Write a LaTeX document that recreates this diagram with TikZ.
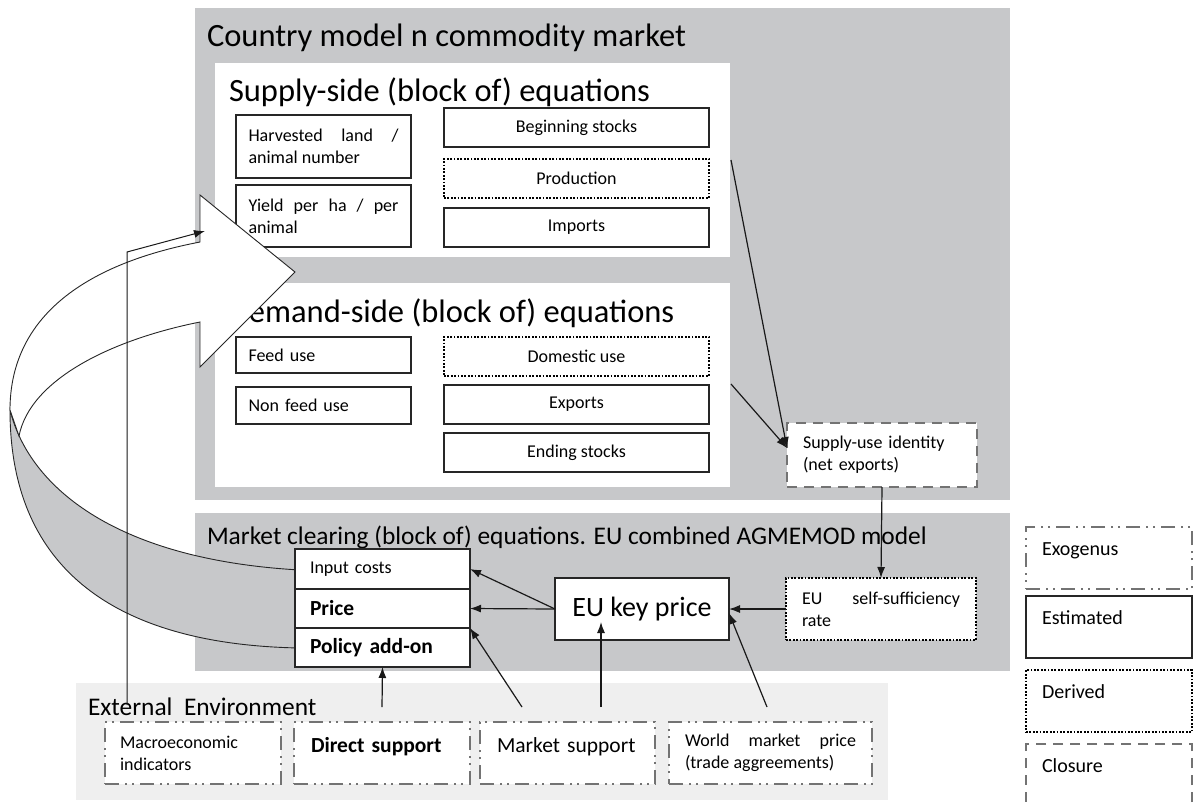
\documentclass[tikz,border=0pt]{standalone}
\usepackage{fontspec}
\setmainfont{Carlito}
\usetikzlibrary{arrows.meta}

\definecolor{panelgray}{RGB}{199,200,202}
\definecolor{envgray}{RGB}{239,239,239}
\definecolor{dashgray}{RGB}{115,115,115}

\newcommand{\boxfont}{\fontsize{18}{22}\selectfont}
\newcommand{\midfont}{\fontsize{21.5}{25}\selectfont}
\newcommand{\bigtitle}{\fontsize{32.5}{38}\selectfont}

\begin{document}
\begin{tikzpicture}[x=1pt, y=-1pt,
	every node/.style={inner sep=0pt, outer sep=0pt},
	est/.style={draw=black!85, line width=1.3pt, fill=white, font=\boxfont},
	der/.style={est, draw=black, line width=2.2pt, dash pattern=on 1.8pt off 1.6pt},
	exo/.style={est, draw=dashgray, line width=2.2pt, dash pattern=on 14pt off 6pt on 2pt off 5pt on 2pt off 6pt},
	clo/.style={est, draw=dashgray, line width=2.2pt, dash pattern=on 10pt off 7pt},
	link/.style={-{Latex[length=11pt,width=8pt]}, line width=1.2pt, black!90},
	ribbon/.style={line width=0.9pt, draw=black!85}]
	\useasboundingbox (0,0) rectangle (1193,804);
	
	% panels
	\fill[panelgray] (195,8) rectangle (1010,500);
	\fill[white] (215,63) rectangle (730,257);
	\fill[white] (215,283) rectangle (730,487);
	\fill[panelgray] (195,513) rectangle (1010,671);
	\fill[envgray] (76,683) rectangle (888,800);
	
	\node[anchor=base west, font=\bigtitle] (country) at (207,46) {Country model n commodity market};
	\node[anchor=base west, font=\bigtitle] (supply) at (229,101) {Supply-side (block of) equations};
	\node[anchor=base west, font=\bigtitle] (demand) at (229,322) {Demand-side (block of) equations};
	\node[anchor=base west, font=\fontsize{25.4}{30}\selectfont] (clearing) at (207,544) {Market clearing (block of) equations. EU combined AGMEMOD model};
	\node[anchor=base west, font=\fontsize{25.4}{30}\selectfont] (extenv) at (88,715) {External\ \ Environment};
	
	% curved arrow, lower band
	\filldraw[ribbon, fill=panelgray] (10,410) .. controls (30,490) and (120,560) .. (300,570)
		-- (300,648) .. controls (130,645) and (10,580) .. (10,410) -- cycle;
	
	% supply side
	\node[est, minimum width=175pt, minimum height=63pt, text width=150pt, align=justify] (harv) at (323.5,146.5) {Harvested land /\linebreak animal number};
	\node[est, minimum width=175pt, minimum height=62pt, text width=150pt, align=justify] (yield) at (323.5,216) {Yield per ha / per\linebreak animal};
	\node[est, minimum width=265pt, minimum height=39pt] (begin) at (576.5,127.5) {Beginning stocks};
	\node[der, minimum width=265pt, minimum height=39pt] (prod) at (576.5,178.5) {Production};
	\node[est, minimum width=265pt, minimum height=39pt] (imp) at (576.5,227.5) {Imports};
	
	% demand side
	\node[est, minimum width=175pt, minimum height=36pt, text width=150pt, align=left] (feed) at (323.5,355) {Feed use};
	\node[est, minimum width=175pt, minimum height=37pt, text width=150pt, align=left] (nonfeed) at (323.5,405.5) {Non feed use};
	\node[der, minimum width=265pt, minimum height=39pt] (dom) at (576.5,356.5) {Domestic use};
	\node[est, minimum width=265pt, minimum height=39pt] (exp) at (576.5,404.5) {Exports};
	\node[est, minimum width=265pt, minimum height=39pt] (ending) at (576.5,452.5) {Ending stocks};
	
	\node[clo, minimum width=190pt, minimum height=64pt, text width=158pt, align=left] (su) at (882,455) {Supply-use identity\\(net exports)};
	
	% market clearing
	\node[est, minimum width=175pt, minimum height=40pt, text width=145pt, align=left] (incost) at (382.5,569) {Input costs};
	\node[est, minimum width=175pt, minimum height=39pt, text width=145pt, align=left, font=\midfont\bfseries] (price) at (382.5,608.5) {Price};
	\node[est, minimum width=175pt, minimum height=39pt, text width=145pt, align=left, font=\midfont\bfseries] (policy) at (382.5,647.5) {Policy add-on};
	\node[est, minimum width=174pt, minimum height=62pt, font=\fontsize{28}{32}\selectfont] (ekp) at (642,609) {EU key price};
	\node[der, minimum width=190pt, minimum height=62pt, text width=158pt, align=justify] (ss) at (881,609) {EU self-sufficiency\linebreak rate};
	
	% external environment
	\node[exo, minimum width=176pt, minimum height=62pt, text width=146pt, align=left] (macro) at (193,753) {Macroeconomic\\indicators};
	\node[exo, minimum width=176pt, minimum height=62pt, text width=142pt, align=left, font=\midfont\bfseries, text height=16pt, text depth=18pt] (direct) at (382,753) {Direct support};
	\node[exo, minimum width=175pt, minimum height=62pt, text width=141pt, align=left, font=\midfont, text height=16pt, text depth=18pt] (market) at (567.5,753) {Market support};
	\node[exo, minimum width=203pt, minimum height=62pt, text width=171pt, align=justify] (world) at (770.5,753) {World market price\linebreak (trade aggreements)};
	
	% legend
	\node[exo, minimum width=166pt, minimum height=62pt, text width=134pt, align=left, font=\fontsize{20}{24}\selectfont, text height=14pt, text depth=20pt] (lexo) at (1109,558) {Exogenus};
	\node[est, minimum width=166pt, minimum height=62pt, text width=134pt, align=left, font=\fontsize{20}{24}\selectfont, text height=14pt, text depth=20pt] (lest) at (1109,627) {Estimated};
	\node[der, minimum width=166pt, minimum height=62pt, text width=134pt, align=left, font=\fontsize{20}{24}\selectfont, text height=14pt, text depth=20pt] (lder) at (1109,701) {Derived};
	\node[clo, minimum width=166pt, minimum height=62pt, text width=134pt, align=left, font=\fontsize{20}{24}\selectfont, text height=14pt, text depth=20pt] (lclo) at (1109,775) {Closure};
	
	% curved arrow, head
	\filldraw[ribbon, fill=white] (200,242) .. controls (80,265) and (10,320) .. (10,410)
		-- (19,436) .. controls (30,380) and (110,340) .. (200,322)
		-- (200,367) -- (295,272) -- (200,195) -- cycle;
	
	% connectors
	\coordinate (prodout) at (731,160);
	\coordinate (expout) at (731,384);
	\draw[link] (prodout) -- ([yshift=7pt]su.west);
	\draw[link] (expout) -- ([yshift=7pt]su.west);
	\draw[link] (su.south) -- (ss.north);
	\draw[link] (ss.west) -- (ekp.east);
	\draw[link] (ekp.west) -- (incost.east);
	\draw[link] (ekp.west) -- (price.east);
	\draw[link] ([yshift=15pt]direct.north) -- (policy.south);
	
	\coordinate (msleft) at (522,707);
	\coordinate (msmid) at (601,707);
	\coordinate (ekpin) at (601,622);
	\coordinate (wmtop) at (767,707);
	\draw[link] (msleft) -- (price.south east);
	\draw[link] (msmid) -- (ekpin);
	\draw[link] (wmtop) -- ([yshift=-4pt]ekp.east);
	
	\coordinate (macroup) at (127,705);
	\coordinate (bend) at (127,252);
	\coordinate (yieldin) at (205,231);
	\draw[link, line width=1pt] (macroup) -- (bend) -- (yieldin);
\end{tikzpicture}
\end{document}
